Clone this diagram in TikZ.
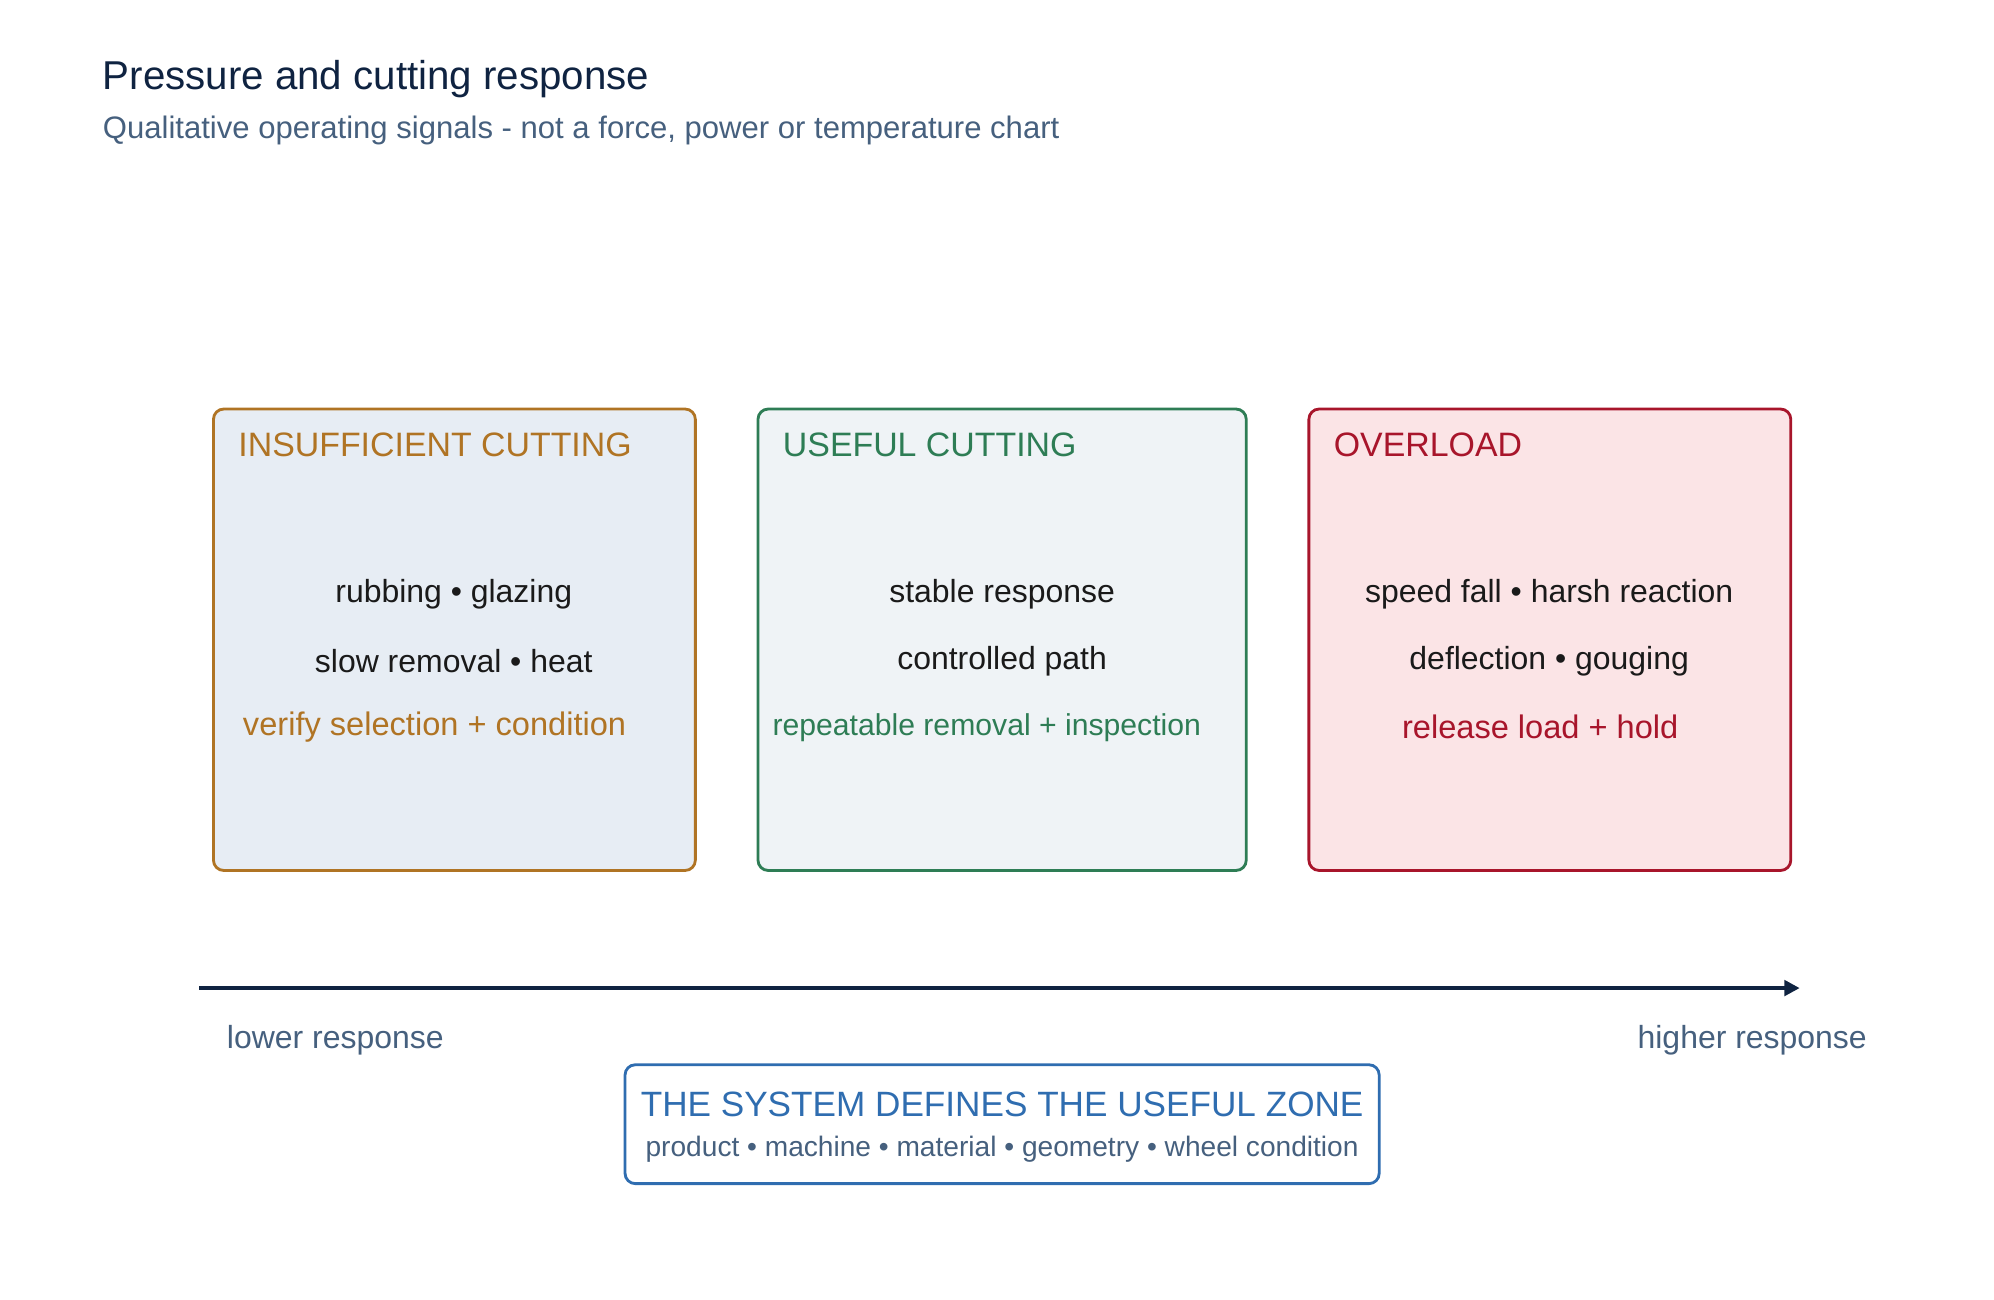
\documentclass[tikz,border=0pt]{standalone}
\usepackage{fontspec}
\setmainfont{Liberation Sans}
\usetikzlibrary{arrows.meta}
\definecolor{orng}{HTML}{B07424}\definecolor{orf}{HTML}{E7EDF4}
\definecolor{grn}{HTML}{2E7D55}\definecolor{grf}{HTML}{EFF3F6}
\definecolor{rd}{HTML}{A8152B}\definecolor{rdf}{HTML}{FBE4E6}
\definecolor{navy}{HTML}{0F2341}\definecolor{blu}{HTML}{2F6DB0}
\definecolor{gtx}{HTML}{46607E}\definecolor{btx}{HTML}{1A1A1A}
\tikzset{box/.style={draw=#1,line width=2.2pt,rounded corners=8pt},
 hd/.style={anchor=west,font=\fontsize{26.5}{30}\selectfont,text=#1},
 ln/.style={font=\fontsize{25}{29}\selectfont,text=btx},
 ac/.style={font=\fontsize{25.5}{29}\selectfont,text=#1}}
\begin{document}
\begin{tikzpicture}[x=1pt,y=-1pt]
\useasboundingbox (0,0) rectangle (1560,1017);
\node[anchor=west,font=\fontsize{31.5}{36}\selectfont,text=navy] (t) at (77,62) {Pressure and cutting response};
\node[anchor=west,font=\fontsize{24.3}{28}\selectfont,text=gtx] (s) at (77,102) {Qualitative operating signals - not a force, power or temperature chart};
\draw[box=orng,fill=orf] (167,320) rectangle (544,681);
\draw[box=grn,fill=grf] (593,320) rectangle (975,681);
\draw[box=rd,fill=rdf] (1024,320) rectangle (1401,681);
\node[hd=orng] (h1) at (183,348) {INSUFFICIENT CUTTING};
\node[hd=grn] (h2) at (609,348) {USEFUL CUTTING};
\node[hd=rd] (h3) at (1040,348) {OVERLOAD};
\node[ln] (a1) at (355,465) {rubbing • glazing};
\node[ln] (a2) at (355,517) {slow removal • heat};
\node[ac=orng] (a3) at (340,569) {verify selection + condition};
\node[ln] (b1) at (784,465) {stable response};
\node[ln] (b2) at (784,517) {controlled path};
\node[ac=grn,font=\fontsize{23.6}{27}\selectfont] (b3) at (772,569) {repeatable removal + inspection};
\node[ln] (c1) at (1212,465) {speed fall • harsh reaction};
\node[ln] (c2) at (1212,517) {deflection • gouging};
\node[ac=rd] (c3) at (1205,569) {release load + hold};
\coordinate (l) at (156,773); \coordinate (r) at (1408,773);
\draw[navy,line width=3.2pt,-{Triangle[length=12pt,width=12pt]}] (l) -- (r);
\node[anchor=west,font=\fontsize{25}{29}\selectfont,text=gtx] (lo) at (174,814) {lower response};
\node[anchor=east,font=\fontsize{25}{29}\selectfont,text=gtx] (hi) at (1464,814) {higher response};
\draw[box=blu,fill=white] (489,833) rectangle (1079,926);
\node[font=\fontsize{27.5}{31}\selectfont,text=blu] (z1) at (784,864) {THE SYSTEM DEFINES THE USEFUL ZONE};
\node[font=\fontsize{22}{26}\selectfont,text=gtx] (z2) at (784,899) {product • machine • material • geometry • wheel condition};
\end{tikzpicture}
\end{document}
